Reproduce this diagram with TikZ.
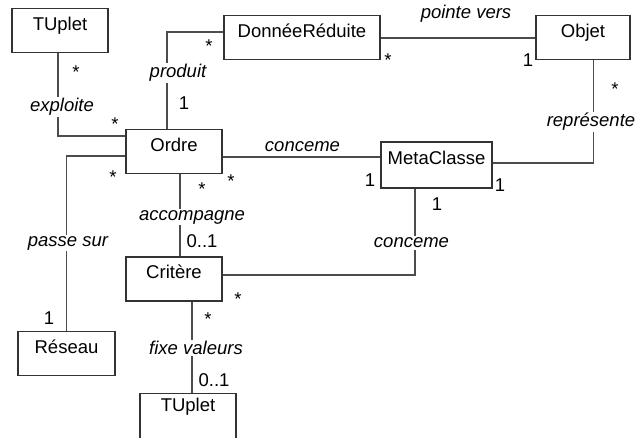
\documentclass[tikz,border=0pt]{standalone}
\usepackage{fontspec}
\setmainfont{Liberation Sans}
\begin{document}
\begin{tikzpicture}[x=1pt,y=-1pt,
  every node/.style={font=\fontsize{18.5}{22}\selectfont},
  cls/.style={draw=black!80, line width=1.4pt, inner sep=0pt, minimum width=#1,
              text height=22pt, text depth=22pt},
  assoc/.style={draw=black!70, line width=1.3pt},
  role/.style={font=\fontsize{18.5}{22}\selectfont\itshape, fill=white, inner sep=1.5pt},
  star/.style={inner sep=0pt, anchor=base, yshift=-10.4pt},
  num/.style={inner sep=0pt, anchor=base, yshift=-6.6pt},
]
\useasboundingbox (0,0) rectangle (635,438);

% classes
\node[cls=96pt]  (tup1)    at (60,30.5)   {TUplet};
\node[cls=156pt] (donnee)  at (302,37.5)  {DonnéeRéduite};
\node[cls=94pt]  (objet)   at (583,37.5)  {Objet};
\node[cls=96pt]  (ordre)   at (174,151.5) {Ordre};
\node[cls=111pt, text height=23pt, text depth=23pt] (meta) at (436.5,165) {MetaClasse};
\node[cls=96pt]  (critere) at (174,279)   {Critère};
\node[cls=97pt]  (reseau)  at (66.5,353.5) {Réseau};
\node[cls=96pt, text height=18pt, text depth=27pt] (tup2) at (188,416) {TUplet};

% associations
\draw[assoc] ([xshift=-2pt]tup1.south) |- ([yshift=15.5pt]ordre.west);
\draw[assoc] ([yshift=5.5pt]donnee.west) -| ([xshift=-7pt]ordre.north);
\draw[assoc] ([yshift=-0.5pt]donnee.east) -- ([yshift=-0.5pt]objet.west);
\draw[assoc] ([xshift=10.5pt]objet.south) |- ([yshift=2pt]meta.east);
\draw[assoc] ([yshift=-5.5pt]ordre.east) -- ([yshift=8pt]meta.west);
\draw[assoc] ([yshift=-4.5pt]ordre.west) -| (reseau.north);
\draw[assoc] ([xshift=6pt]ordre.south) -- ([xshift=6pt]critere.north);
\draw[assoc] ([yshift=4pt]critere.east) -| ([xshift=-21.5pt]meta.south);
\draw[assoc] ([xshift=18pt]critere.south) -- ([xshift=4pt]tup2.north);

% association names
\node[role] (lexp)  at (62,107)    {exploite};
\node[role] (lprod) at (178,73)    {produit};
\node[role] (lpv)   at (466,14)    {pointe vers};
\node[role] (lrep)  at (591,122)   {représente};
\node[role, fill=none] (lcon1) at (302.5,147) {conceme};
\node[role] (lps)   at (68,243)    {passe sur};
\node[role] (lacc)  at (192,217)   {accompagne};
\node[role] (lcon2) at (411.5,243) {conceme};
\node[role] (lfix)  at (196,348)   {fixe valeurs};

% multiplicities
\node[star] (m1)  at (76,68)   {*};
\node[star] (m2)  at (115,120) {*};
\node[star] (m3)  at (209,42)  {*};
\node[star] (m4)  at (388,56)  {*};
\node[star] (m5)  at (615,85)  {*};
\node[star] (m6)  at (231,177) {*};
\node[star] (m7)  at (113,173) {*};
\node[star] (m8)  at (202,185) {*};
\node[star] (m9)  at (238,295) {*};
\node[star] (m10) at (208,315) {*};
\node[num] (n1) at (184,103) {1};
\node[num] (n2) at (528,60)  {1};
\node[num] (n3) at (500,185) {1};
\node[num] (n4) at (370,180) {1};
\node[num] (n5) at (49,318)  {1};
\node[num] (n6) at (202,241) {0..1};
\node[num] (n7) at (437,204) {1};
\node[num] (n8) at (214,380) {0..1};
\end{tikzpicture}
\end{document}
